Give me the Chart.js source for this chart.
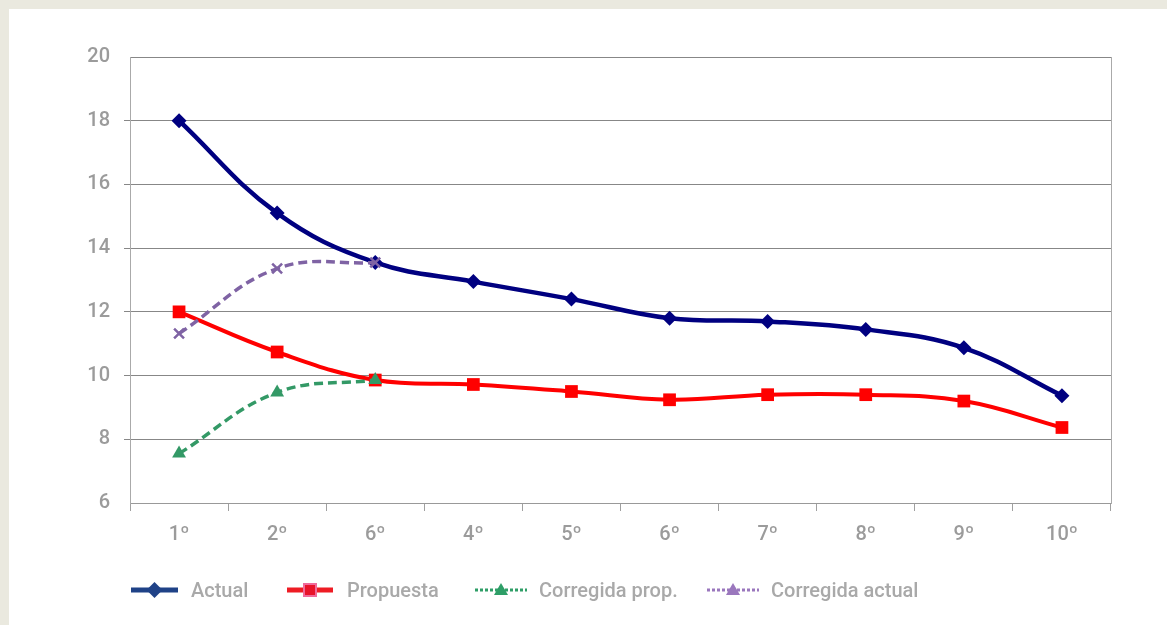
<!DOCTYPE html>
<html>
<head>
<meta charset="utf-8">
<script src="https://cdn.jsdelivr.net/npm/chart.js@4/dist/chart.umd.min.js"></script>
<style>
html, body { margin: 0; padding: 0; background: #eae9df; }
#panel { position: absolute; left: 9px; top: 9px; width: 1158px; height: 616px; background: #fff; }
#wrap { position: absolute; left: 0; top: 0; width: 1167px; height: 625px; }
.leg { position: absolute; top: 578px; height: 24px; display: flex; align-items: center;
       font-family: Roboto, sans-serif; font-size: 20px; font-weight: 500; color: #a9a9a9; white-space: nowrap; }
.leg svg { display: block; margin-right: 12px; }
</style>
</head>
<body>
<div id="panel"></div>
<div id="wrap"><canvas id="chart" width="1167" height="625"></canvas></div>

<div class="leg" style="left:131px">
  <svg width="48" height="20"><line x1="0" y1="10" x2="47" y2="10" stroke="#1f4287" stroke-width="5"/>
  <polygon points="23.5,2 31.5,10 23.5,18 15.5,10" fill="#1f4287"/></svg>
  <span>Actual</span>
</div>
<div class="leg" style="left:287px">
  <svg width="48" height="20"><line x1="0" y1="10" x2="46" y2="10" stroke="#ee1c24" stroke-width="5"/>
  <rect x="17" y="4" width="12" height="12" fill="#e8132a" stroke="#f06a9b" stroke-width="2"/></svg>
  <span>Propuesta</span>
</div>
<div class="leg" style="left:475px">
  <svg width="52" height="20"><line x1="0" y1="10" x2="52" y2="10" stroke="#2e9e67" stroke-width="3" stroke-dasharray="3,2"/>
  <polygon points="26,3 33,15 19,15" fill="#2e9e67"/></svg>
  <span>Corregida prop.</span>
</div>
<div class="leg" style="left:707px">
  <svg width="52" height="20"><line x1="0" y1="10" x2="52" y2="10" stroke="#9a77bd" stroke-width="3" stroke-dasharray="3,2"/>
  <polygon points="26,3 33,15 19,15" fill="#9a77bd"/></svg>
  <span>Corregida actual</span>
</div>

<script>
// datos
const categorias = ['1º', '2º', '6º', '4º', '5º', '6º', '7º', '8º', '9º', '10º'];
const actual = [18.0, 15.1, 13.55, 12.95, 12.4, 11.8, 11.7, 11.45, 10.87, 9.37];
const propuesta = [12.0, 10.74, 9.86, 9.72, 9.5, 9.24, 9.4, 9.4, 9.2, 8.37];
const corregidaProp = [7.55, 9.47, 9.86, null, null, null, null, null, null, null];
const corregidaActual = [11.32, 13.36, 13.55, null, null, null, null, null, null, null];
const ticksY = [6, 8, 10, 12, 14, 16, 18, 20];

const fuente = { family: 'Roboto', size: 20, weight: 500 };
const gris = '#9b9b9b';

new Chart(document.getElementById('chart'), {
    type: 'line',
    data: {
        labels: categorias,
        datasets: [
            {
                label: 'Corregida actual',
                data: corregidaActual,
                borderColor: '#7f63a4',
                backgroundColor: '#7f63a4',
                borderWidth: 3.5,
                borderDash: [9, 5],
                pointStyle: 'crossRot',
                pointRadius: 7,
                pointBorderWidth: 2.5,
                tension: 0.4
            },
            {
                label: 'Corregida prop.',
                data: corregidaProp,
                borderColor: '#339966',
                backgroundColor: '#339966',
                borderWidth: 3.5,
                borderDash: [9, 5],
                pointStyle: 'triangle',
                pointRadius: 8,
                pointBorderWidth: 0,
                tension: 0.4
            },
            {
                label: 'Propuesta',
                data: propuesta,
                borderColor: '#ff0000',
                backgroundColor: '#ff0000',
                borderWidth: 4,
                pointStyle: 'rect',
                pointRadius: 9,
                pointBorderWidth: 0,
                tension: 0.4
            },
            {
                label: 'Actual',
                data: actual,
                borderColor: '#000080',
                backgroundColor: '#000080',
                borderWidth: 4.5,
                pointStyle: 'rectRot',
                pointRadius: 7.5,
                pointBorderWidth: 0,
                tension: 0.4
            }
        ]
    },
    options: {
        responsive: false,
        animation: false,
        layout: { padding: { top: 57, right: 56, bottom: 72, left: 0 } },
        plugins: { legend: { display: false }, tooltip: { enabled: false } },
        elements: { point: { hoverRadius: 0 } },
        scales: {
            x: {
                type: 'category',
                offset: true,
                grid: { offset: true, drawOnChartArea: false, tickLength: 8, color: '#a0a0a0' },
                border: { color: '#999999' },
                ticks: { font: fuente, color: gris, padding: 12, maxRotation: 0 },
                afterFit: s => { s.height = 50; }
            },
            y: {
                min: 6,
                max: 20,
                afterBuildTicks: s => { s.ticks = ticksY.map(v => ({ value: v })); },
                grid: {
                    color: c => (c.tick && c.tick.value === 6) ? 'rgba(0,0,0,0)' : '#878787',
                    tickColor: c => (c.tick && (c.tick.value === 6 || c.tick.value === 20)) ? 'rgba(0,0,0,0)' : '#878787',
                    tickLength: 6
                },
                border: { color: '#aaaaaa' },
                ticks: { font: fuente, color: gris, padding: 14 },
                afterFit: s => { s.width = 130; }
            },
            y2: {
                position: 'right',
                min: 6,
                max: 20,
                grid: { drawOnChartArea: false, drawTicks: false },
                border: { color: '#aaaaaa' },
                ticks: { display: false },
                afterFit: s => { s.width = 0; }
            }
        }
    }
});
</script>
</body>
</html>
